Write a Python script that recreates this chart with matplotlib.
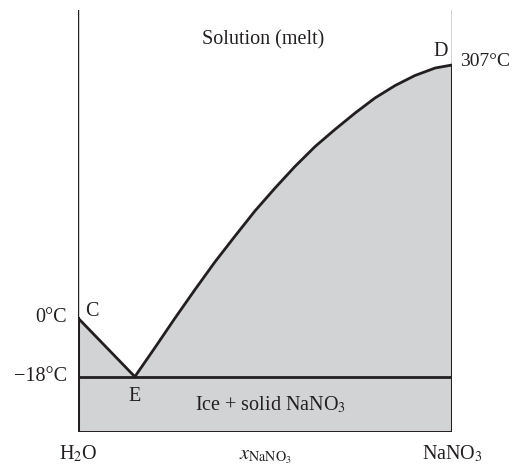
import matplotlib
matplotlib.use("Agg")
import matplotlib.pyplot as plt

plt.rcParams['font.family'] = ['Liberation Serif', 'DejaVu Serif']
plt.rcParams['mathtext.fontset'] = 'stix'

# composition (0 = H2O, 1 = NaNO3) and schematic height of the diagram
x_liq = [0.152, 0.206, 0.259, 0.313, 0.366, 0.420, 0.473, 0.527, 0.580,
         0.634, 0.687, 0.741, 0.794, 0.848, 0.901, 0.955, 1.0]
y_liq = [55.3, 84.5, 113.7, 142.5, 170.0, 196.0, 221.0, 244.0, 265.5,
         285.5, 302.5, 319.0, 334.0, 346.5, 356.5, 364.0, 367.0]
x_C, y_C = 0.0, 114.0          # melting point of ice, 0 °C
x_E, y_E = 0.152, 55.3         # eutectic, -18 °C
y_D = 367.0                    # melting point of NaNO3, 307 °C
y_top = 422.0

line_col = '#231f20'
fill_col = '#d1d3d5'

fig = plt.figure(figsize=(5.14, 4.66), dpi=100)
ax = fig.add_axes([78 / 514, 34 / 466, 374 / 514, 422 / 466])
ax.set_xlim(0, 1)
ax.set_ylim(0, y_top)
ax.axis('off')

# shaded two-phase regions
px = [0, x_C] + x_liq + [1]
py = [0, y_C] + y_liq + [0]
ax.fill(px, py, color=fill_col, lw=0, zorder=1)

# boundaries
ax.plot([0, 0], [y_C, y_top], color=line_col, lw=1.0, zorder=2)
ax.plot([1, 1], [y_D, y_top], color=line_col, lw=1.0, zorder=2)
ax.plot([0, 0], [0, y_C], color=line_col, lw=2.2, zorder=3)
ax.plot([1, 1], [0, y_D], color=line_col, lw=2.2, zorder=3)
ax.plot([0, 1], [0, 0], color=line_col, lw=1.4, zorder=3)
ax.plot([0, 1], [y_E, y_E], color=line_col, lw=2.0, zorder=3)
ax.plot([x_C, x_E], [y_C, y_E], color=line_col, lw=2.0, zorder=3)
ax.plot(x_liq, y_liq, color=line_col, lw=2.0, zorder=3, solid_joinstyle='round')

fs = 14.5
kw = dict(fontsize=fs, color=line_col, clip_on=False)
ax.text(0.496, 392, 'Solution (melt)', ha='center', va='center', **kw)
ax.text(0.515, 27, 'Ice + solid NaNO$_3$', ha='center', va='center', **kw)
ax.text(-0.03, y_C, '0°C', ha='right', va='center', **kw)
ax.text(-0.03, y_E, '\u221218°C', ha='right', va='center', **kw)
ax.text(0.018, y_C + 7, 'C', ha='left', va='center', **kw)
ax.text(x_E, y_E - 20, 'E', ha='center', va='center', **kw)
ax.text(0.99, y_D + 13, 'D', ha='right', va='center', **kw)
ax.text(1.022, y_D + 4, '307°C', ha='left', va='center',
        fontsize=14, color=line_col, clip_on=False)
ax.text(0.0, -22, 'H$_2$O', ha='center', va='center', **kw)
ax.text(1.0, -22, 'NaNO$_3$', ha='center', va='center', **kw)
ax.text(0.5, -25, r'$x_{\mathrm{NaNO_3}}$', ha='center', va='center', **kw)

fig.savefig('out.png', dpi=100)
